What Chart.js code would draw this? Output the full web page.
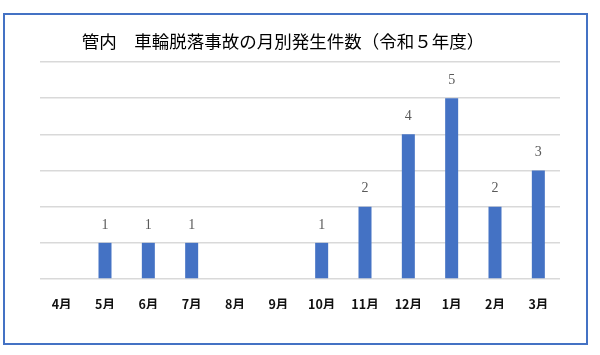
<!DOCTYPE html>
<html>
<head>
<meta charset="utf-8">
<script src="https://cdn.jsdelivr.net/npm/chart.js@4/dist/chart.umd.min.js"></script>
<style>
  html, body { margin: 0; padding: 0; background: #fff; }
  #wrap { position: relative; width: 600px; height: 355px; }
  #frame { position: absolute; left: 3px; top: 13px; width: 581px; height: 328px; border: 2px solid #4472C4; }
  canvas { position: absolute; left: 0; top: 0; }
</style>
</head>
<body>
<div id="wrap">
  <div id="frame"></div>
  <canvas id="bar" width="600" height="355"></canvas>
</div>
<script>
var months = ['4月', '5月', '6月', '7月', '8月', '9月', '10月', '11月', '12月', '1月', '2月', '3月'];
var counts = [0, 1, 1, 1, 0, 0, 1, 2, 4, 5, 2, 3];
var titleText = '管内　車輪脱落事故の月別発生件数（令和５年度）';

// value labels above the bars (skip zero months)
var valueLabels = {
    id: 'valueLabels',
    afterDatasetsDraw: function(chart) {
        var ctx = chart.ctx;
        var meta = chart.getDatasetMeta(0);
        ctx.save();
        ctx.fillStyle = '#595959';
        ctx.font = '14px "Liberation Serif", serif';
        ctx.textAlign = 'center';
        ctx.textBaseline = 'middle';
        meta.data.forEach(function(bar, i) {
            if (!counts[i]) return;
            ctx.fillText(String(counts[i]), bar.x, bar.y - 18);
        });
        ctx.restore();
    }
};

var chart = new Chart(document.getElementById('bar').getContext('2d'), {
    type: 'bar',
    data: {
        labels: months,
        datasets: [{
            data: counts,
            backgroundColor: '#4472C4',
            barPercentage: 0.6,
            categoryPercentage: 0.5
        }]
    },
    options: {
        responsive: false,
        animation: false,
        layout: { padding: { left: 6, right: 40, top: 0, bottom: 46 } },
        plugins: {
            legend: { display: false },
            tooltip: { enabled: false },
            title: {
                display: true,
                text: titleText,
                color: '#000',
                font: { family: '"Noto Sans CJK JP"', size: 17.5, weight: 'normal' },
                padding: { top: 31, bottom: 10 }
            }
        },
        scales: {
            x: {
                grid: { display: false },
                border: { display: false },
                ticks: {
                    color: '#111',
                    padding: 10,
                    font: { family: '"Noto Sans CJK JP"', size: 12.5, weight: 'bold' }
                },
                afterFit: function(s) { s.height = 30; }
            },
            y: {
                min: 0,
                max: 6,
                ticks: { display: false, stepSize: 1 },
                grid: { color: '#d9d9d9', lineWidth: 1.5, drawTicks: false },
                border: { display: false },
                afterFit: function(s) { s.width = 34; }
            }
        }
    },
    plugins: [valueLabels]
});
</script>
</body>
</html>
